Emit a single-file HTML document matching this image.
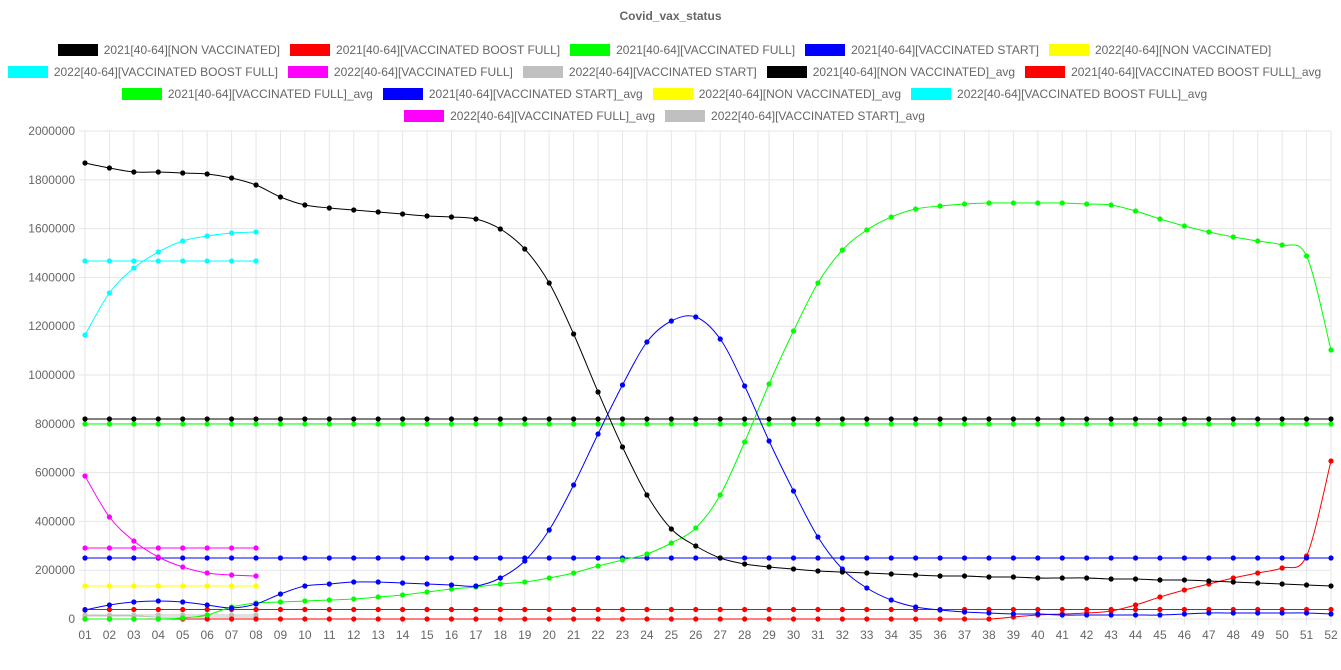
<!DOCTYPE html>
<html><head><meta charset="utf-8"><style>
body{margin:0;background:#fff;width:1341px;height:670px;overflow:hidden;font-family:"Liberation Sans",Arial,sans-serif;}
.row{position:absolute;left:-6px;width:1341px;display:flex;justify-content:center;font-size:12px;color:#666;white-space:nowrap}
.it{display:flex;align-items:center;margin:0 5px}
.bx{width:40px;height:12px;margin-right:6px;display:inline-block}
</style></head><body>
<div style="position:absolute;top:9px;width:1341px;text-align:center;font-weight:bold;font-size:12px;color:#666">Covid_vax_status</div>
<div id="leg"></div>
<svg id="s" width="1341" height="670" style="position:absolute;left:0;top:0"></svg>
<script>
const leg=[
[["#000","2021[40-64][NON VACCINATED]"],["#f00","2021[40-64][VACCINATED BOOST FULL]"],["#0f0","2021[40-64][VACCINATED FULL]"],["#00f","2021[40-64][VACCINATED START]"],["#ff0","2022[40-64][NON VACCINATED]"]],
[["#0ff","2022[40-64][VACCINATED BOOST FULL]"],["#f0f","2022[40-64][VACCINATED FULL]"],["#c0c0c0","2022[40-64][VACCINATED START]"],["#000","2021[40-64][NON VACCINATED]_avg"],["#f00","2021[40-64][VACCINATED BOOST FULL]_avg"]],
[["#0f0","2021[40-64][VACCINATED FULL]_avg"],["#00f","2021[40-64][VACCINATED START]_avg"],["#ff0","2022[40-64][NON VACCINATED]_avg"],["#0ff","2022[40-64][VACCINATED BOOST FULL]_avg"]],
[["#f0f","2022[40-64][VACCINATED FULL]_avg"],["#c0c0c0","2022[40-64][VACCINATED START]_avg"]]];
let h="";leg.forEach((r,i)=>{h+=`<div class="row" style="top:${43+i*22}px">`;r.forEach(([c,t])=>h+=`<div class="it"><span class="bx" style="background:${c}"></span>${t}</div>`);h+="</div>";});
document.getElementById("leg").innerHTML=h;
const X=i=>85+i*(1246/51);
let g="";
for(let k=0;k<=10;k++){const y=619-k*48.8;g+=`<line x1="79" x2="1331" y1="${y}" y2="${y}" stroke="#e6e6e6"/><text x="75" y="${y+4}" text-anchor="end" font-size="12" fill="#666">${k*200000}</text>`;}
for(let i=0;i<52;i++){const x=X(i);g+=`<line x1="${x}" x2="${x}" y1="131" y2="625" stroke="#e6e6e6"/><text x="${x}" y="639" text-anchor="middle" font-size="12" fill="#666">${String(i+1).padStart(2,"0")}</text>`;}
function path(ys,c){const p=ys.map((y,i)=>[X(i),y]);let d=`M${p[0][0]},${p[0][1]}`;
for(let i=0;i<p.length-1;i++){const a=p[i-1]||p[i],b=p[i],e=p[i+1],f=p[i+2]||e;
d+=` C${b[0]+(e[0]-a[0])/6},${b[1]+(e[1]-a[1])/6} ${e[0]-(f[0]-b[0])/6},${e[1]-(f[1]-b[1])/6} ${e[0]},${e[1]}`;}
let s=`<path d="${d}" fill="none" stroke="${c}" stroke-width="1"/>`;p.forEach(q=>s+=`<circle cx="${q[0]}" cy="${q[1]}" r="2.6" fill="${c}"/>`);return s;}
const F=(v,n)=>Array(n).fill(v);
const S=[
["#c0c0c0",F(615,52).slice(0,8)],
["#c0c0c0",[616,616,616,617,617,617,617,617]],
["#f00",F(609.5,52)],
["#f00",F(619,38).concat([617,615,614,613,611,605,597,590,584,578,573,568,556,461])],
["#0f0",F(424,52)],
["#000",F(419,52)],
["#00f",F(558,52)],
["#ff0",F(586,8)],
["#0ff",F(261,8)],
["#f0f",F(548,8)],
["#ff0",F(586,8)],
["#0ff",[335,293,268,252,241,236,233,232]],
["#f0f",[476,517,541,557,567,573,575,576]],
["#0f0",[619,619,619,619,618,615,607,603,602,601,600,599,597,595,592,589,587,584,582,578,573,566,560,554,543,528,495,442,384,331,283,250,230,217,209,206,204,203,203,203,203,204,205,211,219,226,232,237,241,245,256,350]],
["#00f",[610,605,602,601,602,605,608,604,594,586,584,582,582,583,584,585,586,578,561,530,485,434,385,342,321,317,339,386,441,491,537,569,588,600,607,610,612,613,614,614,615,615,615,615,615,614,613,613,613,613,613,614]],
["#000",[163,168,172,172,173,174,178,185,197,205,208,210,212,214,216,217,219,229,249,283,334,392,447,495,529,546,558,564,567,569,571,572,573,574,575,576,576,577,577,578,578,578,579,579,580,580,581,582,583,584,585,586]]
];
S.forEach(([c,y])=>g+=path(y,c));
document.getElementById("s").innerHTML=g;
</script>
</body></html>
